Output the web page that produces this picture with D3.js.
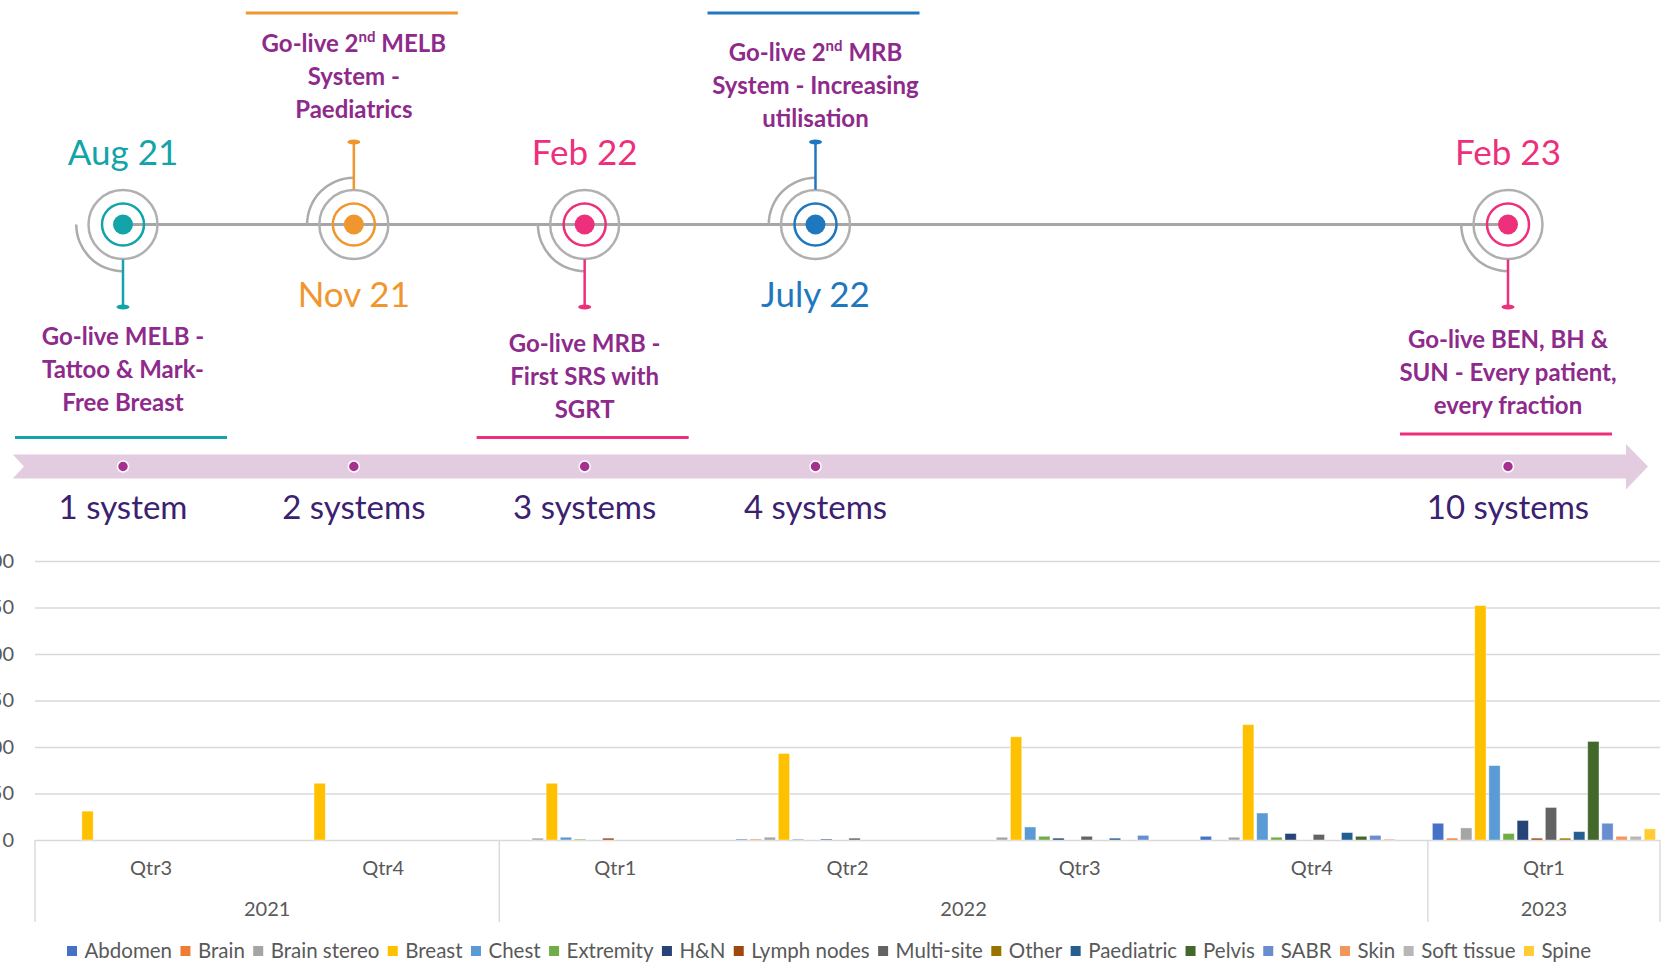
<!DOCTYPE html>
<html>
<head>
<meta charset="utf-8">
<script src="https://cdn.jsdelivr.net/npm/d3@7"></script>
<style>
body { margin: 0; background: #fff; }
svg { display: block; font-family: Lato, "Open Sans", sans-serif; }
text { white-space: pre; }
</style>
</head>
<body>
<svg id="chart" width="1665" height="973"></svg>
<script>
// chart data
var quarters = ["Qtr3", "Qtr4", "Qtr1", "Qtr2", "Qtr3", "Qtr4", "Qtr1"];
var years = ["2021", "2021", "2022", "2022", "2022", "2022", "2023"];
var sites = ["Abdomen", "Brain", "Brain stereo", "Breast", "Chest", "Extremity", "H&N", "Lymph nodes",
    "Multi-site", "Other", "Paediatric", "Pelvis", "SABR", "Skin", "Soft tissue", "Spine"];
var siteColors = ["#4472C4", "#ED7D31", "#A5A5A5", "#FFC000", "#5B9BD5", "#70AD47", "#264478", "#9E480E",
    "#636363", "#997300", "#255E91", "#43682B", "#698ED0", "#F1975A", "#B7B7B7", "#FFCD33"];

var abdomen     = [0, 0, 0, 1, 0, 4, 18];
var brain       = [0, 0, 0, 1, 0, 0, 2];
var brainStereo = [0, 0, 2, 3, 3, 3, 13];
var breast      = [31, 61, 61, 93, 111, 124, 252];
var chest       = [0, 0, 3, 1, 14, 29, 80];
var extremity   = [0, 0, 1, 0, 4, 3, 7];
var hn          = [0, 0, 0, 1, 2, 7, 21];
var lymphNodes  = [0, 0, 2, 0, 0, 0, 2];
var multiSite   = [0, 0, 0, 2, 4, 6, 35];
var other       = [0, 0, 0, 0, 0, 0, 2];
var paediatric  = [0, 0, 0, 0, 2, 8, 9];
var pelvis      = [0, 0, 0, 0, 0, 4, 106];
var sabr        = [0, 0, 0, 0, 5, 5, 18];
var skin        = [0, 0, 0, 0, 0, 1, 4];
var softTissue  = [0, 0, 0, 0, 0, 0, 4];
var spine       = [0, 0, 0, 0, 0, 0, 12];
var seriesValues = [abdomen, brain, brainStereo, breast, chest, extremity, hn, lymphNodes,
    multiSite, other, paediatric, pelvis, sabr, skin, softTissue, spine];

var yTicks = [0, 50, 100, 150, 200, 250, 300];

// timeline data
var milestoneQuarter = ["2021 Qtr3", "2021 Qtr4", "2022 Qtr1", "2022 Qtr2", "2023 Qtr1"];
var milestoneDates = ["Aug 21", "Nov 21", "Feb 22", "July 22", "Feb 23"];
var milestoneText = [
    ["Go-live MELB -", "Tattoo & Mark-", "Free Breast"],
    ["Go-live 2^nd MELB", "System -", "Paediatrics"],
    ["Go-live MRB -", "First SRS with", "SGRT"],
    ["Go-live 2^nd MRB", "System - Increasing", "utilisation"],
    ["Go-live BEN, BH &", "SUN - Every patient,", "every fraction"]
];
var milestoneColors = ["#12A4A8", "#F0962E", "#EE2F7B", "#1F78BF", "#EE2F7B"];
var systemLabels = ["1 system", "2 systems", "3 systems", "4 systems", "10 systems"];

var quarterKeys = quarters.map(function(q, i) { return years[i] + " " + q; });

var svg = d3.select("#chart");
var plotLeft = 35, plotRight = 1660, plotBase = 840, plotTop = 561;

var x0 = d3.scaleBand().domain(quarterKeys).range([plotLeft, plotRight]).padding(0);
var x1 = d3.scaleBand().domain(sites).range([0, x0.bandwidth()]).paddingInner(0.2).paddingOuter(0.32);
var y = d3.scaleLinear().domain([0, 300]).range([plotBase, plotTop]);

// gridlines + y labels
var yAxis = svg.append("g")
    .attr("transform", "translate(" + plotLeft + ",0)")
    .call(d3.axisLeft(y).tickValues(yTicks).tickSize(-(plotRight - plotLeft)).tickPadding(21));
yAxis.select(".domain").remove();
yAxis.selectAll("line").attr("stroke", "#D9D9D9").attr("stroke-width", 1.4);
yAxis.selectAll("text").attr("fill", "#595959").attr("font-size", 20).attr("font-family", "Lato");

// category axis box
var yearGroups = d3.groups(quarterKeys, function(k) { return k.split(" ")[0]; });
var edges = [plotLeft];
yearGroups.forEach(function(g) { edges.push(x0(g[1][g[1].length - 1]) + x0.bandwidth()); });
svg.selectAll(".sep").data(edges).enter().append("line")
    .attr("x1", function(d) { return d; }).attr("x2", function(d) { return d; })
    .attr("y1", plotBase).attr("y2", 922)
    .attr("stroke", "#D9D9D9").attr("stroke-width", 1.4);

svg.selectAll(".qlab").data(quarterKeys).enter().append("text")
    .attr("x", function(d) { return x0(d) + x0.bandwidth() / 2; })
    .attr("y", 875)
    .attr("text-anchor", "middle")
    .attr("font-size", 20).attr("fill", "#595959")
    .text(function(d, i) { return quarters[i]; });

svg.selectAll(".ylab").data(yearGroups).enter().append("text")
    .attr("x", function(g) { return (x0(g[1][0]) + x0(g[1][g[1].length - 1]) + x0.bandwidth()) / 2; })
    .attr("y", 916)
    .attr("text-anchor", "middle")
    .attr("font-size", 20).attr("fill", "#595959")
    .text(function(g) { return g[0]; });

// bars
var bars = [];
quarterKeys.forEach(function(k, qi) {
    sites.forEach(function(s, si) {
        if (seriesValues[si][qi] > 0) bars.push({ key: k, site: s, color: siteColors[si], value: seriesValues[si][qi] });
    });
});
svg.append("g").selectAll("rect").data(bars).enter().append("rect")
    .attr("x", function(d) { return x0(d.key) + x1(d.site); })
    .attr("y", function(d) { return y(d.value); })
    .attr("width", x1.bandwidth())
    .attr("height", function(d) { return plotBase - y(d.value); })
    .attr("fill", function(d) { return d.color; })
    .attr("stroke", "#fff").attr("stroke-opacity", 0.5).attr("stroke-width", 0.8);

// legend
var legend = svg.append("g");
var items = legend.selectAll("g").data(sites).enter().append("g");
items.append("rect").attr("y", 946).attr("width", 10).attr("height", 10)
    .attr("fill", function(d, i) { return siteColors[i]; });
items.append("text").attr("x", 17.5).attr("y", 958)
    .attr("font-size", 20.5).attr("fill", "#595959")
    .text(function(d) { return d; });
var widths = [];
items.select("text").each(function() { widths.push(this.getComputedTextLength()); });
var used = d3.sum(widths) + sites.length * 17.5;
var gap = (1591 - 67 - used) / (sites.length - 1);
var lx = 67;
items.attr("transform", function(d, i) {
    var t = "translate(" + lx + ",0)";
    lx += 17.5 + widths[i] + gap;
    return t;
});

// timeline
var mx = d3.scalePoint().domain(quarterKeys).range([123, 1508]);
var lineY = 224.5;
var xs = milestoneQuarter.map(function(q) { return mx(q); });

svg.append("line")
    .attr("x1", xs[0]).attr("x2", xs[xs.length - 1])
    .attr("y1", lineY).attr("y2", lineY)
    .attr("stroke", "#A6A6A6").attr("stroke-width", 3);

var descNudge = [0, 0, 7, 9, 3];
var arc = d3.arc().innerRadius(45.5).outerRadius(48);

milestoneQuarter.forEach(function(q, i) {
    var cx = xs[i], col = milestoneColors[i];
    var below = i % 2 === 0, dir = below ? 1 : -1;
    var g = svg.append("g");

    g.append("path")
        .attr("transform", "translate(" + cx + "," + lineY + ")")
        .attr("d", arc({ startAngle: below ? Math.PI : 1.5 * Math.PI, endAngle: below ? 1.5 * Math.PI : 2 * Math.PI }))
        .attr("fill", "#ABABAB");
    g.append("circle").attr("cx", cx).attr("cy", lineY).attr("r", 34.5)
        .attr("fill", "none").attr("stroke", "#B0B0B0").attr("stroke-width", 2.5);
    g.append("circle").attr("cx", cx).attr("cy", lineY).attr("r", 21)
        .attr("fill", "none").attr("stroke", col).attr("stroke-width", 2.5);
    g.append("circle").attr("cx", cx).attr("cy", lineY).attr("r", 10).attr("fill", col);

    // stem with cap
    g.append("line").attr("x1", cx).attr("x2", cx)
        .attr("y1", lineY + dir * 35).attr("y2", lineY + dir * 82.5)
        .attr("stroke", col).attr("stroke-width", 2.5);
    g.append("ellipse").attr("cx", cx).attr("cy", lineY + dir * 82.5)
        .attr("rx", 6.5).attr("ry", 2.5).attr("fill", col);

    g.append("text").attr("x", cx).attr("y", below ? 165 : 306.5)
        .attr("text-anchor", "middle").attr("font-size", 35).attr("fill", col)
        .text(milestoneDates[i]);

    var base0 = (below ? 345 : 52) + descNudge[i];
    milestoneText[i].forEach(function(line, li) {
        var t = g.append("text").attr("x", cx).attr("y", base0 + li * 33)
            .attr("text-anchor", "middle").attr("font-size", 24).attr("font-weight", "bold")
            .attr("fill", "#8E2A8B");
        var m = line.match(/^(.*?)\^(\w+)(.*)$/);
        if (m) {
            t.append("tspan").text(m[1]);
            t.append("tspan").attr("dy", -10).attr("font-size", 15).text(m[2]);
            t.append("tspan").attr("dy", 10).text(m[3]);
        } else {
            t.text(line);
        }
    });

    g.append("line")
        .attr("x1", cx - 108).attr("x2", cx + 104)
        .attr("y1", below ? (i === 4 ? 434 : 437.5) : 13)
        .attr("y2", below ? (i === 4 ? 434 : 437.5) : 13)
        .attr("stroke", col).attr("stroke-width", 3);
});

// pink progress arrow
var band = d3.path();
band.moveTo(12.7, 454.5);
band.lineTo(1626, 454.5);
band.lineTo(1626, 444);
band.lineTo(1648, 466.5);
band.lineTo(1626, 489.5);
band.lineTo(1626, 478.5);
band.lineTo(12.7, 478.5);
band.lineTo(24, 466.5);
band.closePath();
svg.append("path").attr("d", band.toString()).attr("fill", "#E3CCE0");

svg.selectAll(".bdot").data(milestoneQuarter).enter().append("circle")
    .attr("cx", function(q) { return mx(q); }).attr("cy", 466.5).attr("r", 5.5)
    .attr("fill", "#A4318F").attr("stroke", "#fff").attr("stroke-width", 1.5);

svg.selectAll(".sys").data(systemLabels).enter().append("text")
    .attr("x", function(d, i) { return mx(milestoneQuarter[i]); })
    .attr("y", 518.5)
    .attr("text-anchor", "middle").attr("font-size", 33).attr("fill", "#3B216F")
    .text(function(d) { return d; });
</script>
</body>
</html>
